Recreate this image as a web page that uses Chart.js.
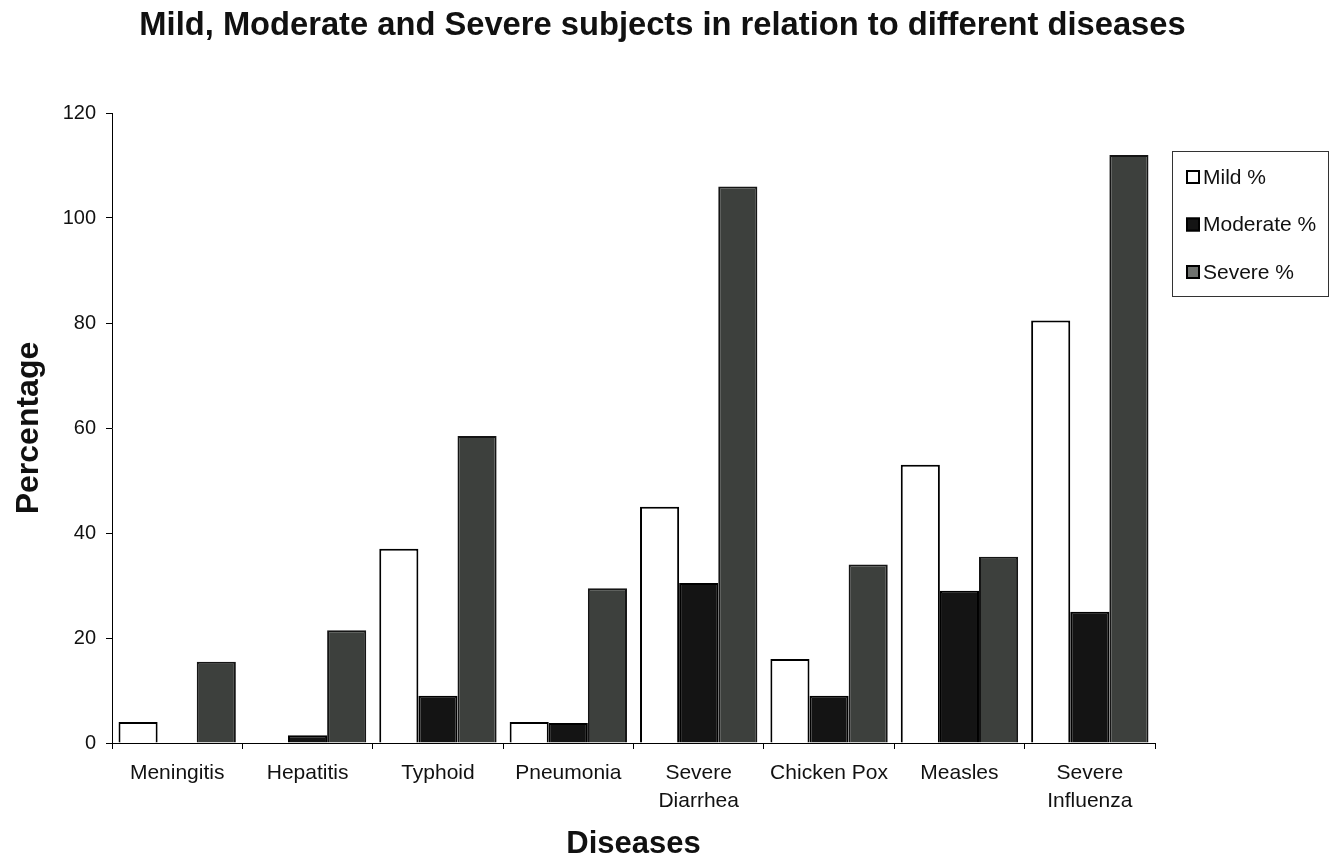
<!DOCTYPE html>
<html>
<head>
<meta charset="utf-8">
<title>Mild, Moderate and Severe subjects in relation to different diseases</title>
<script src="https://cdn.jsdelivr.net/npm/chart.js@4.4.1/dist/chart.umd.min.js"></script>
<style>
  html, body { margin: 0; padding: 0; background: #fff; }
</style>
</head>
<body>
<canvas id="myChart" width="1335" height="858"></canvas>
<script>
// categories and series (percent of subjects)
const diseases = ['Meningitis', 'Hepatitis', 'Typhoid', 'Pneumonia', ['Severe', 'Diarrhea'], 'Chicken Pox', 'Measles', ['Severe', 'Influenza']];
const mild = [4, 0, 37, 4, 45, 16, 53, 80.5];
const moderate = [0, 1.5, 9, 3.8, 30.5, 9, 29, 25];
const severe = [15.5, 21.5, 58.5, 29.5, 106, 34, 35.5, 112];
const yTicks = [0, 20, 40, 60, 80, 100, 120];

const chartTitle = 'Mild, Moderate and Severe subjects in relation to different diseases';
const FONT = "'Liberation Sans', Arial, sans-serif";
const INK = '#111';

// page title centred over the whole canvas, plus a framed legend right of the plot
const decorations = {
  id: 'decorations',
  afterDraw(chart) {
    const ctx = chart.ctx;
    const area = chart.chartArea;
    ctx.save();
    ctx.fillStyle = INK;
    ctx.font = 'bold 32.7px ' + FONT;
    ctx.textAlign = 'center';
    ctx.textBaseline = 'alphabetic';
    ctx.fillText(chartTitle, 662.5, 35);

    const x = area.right + 17, y = 151, w = 156, h = 145;
    ctx.strokeStyle = '#333';
    ctx.lineWidth = 1;
    ctx.strokeRect(x + 0.5, y + 0.5, w, h);
    ctx.font = '21px ' + FONT;
    ctx.textAlign = 'left';
    ctx.textBaseline = 'middle';
    chart.data.datasets.forEach(function (ds, i) {
      const cy = y + 26 + i * 47.5;
      ctx.fillStyle = ds.legendFill || ds.backgroundColor;
      ctx.fillRect(x + 14, cy - 7, 14, 14);
      ctx.strokeStyle = '#000';
      ctx.lineWidth = 2;
      ctx.strokeRect(x + 15, cy - 6, 12, 12);
      ctx.fillStyle = INK;
      ctx.fillText(ds.label, x + 31, cy + 1);
    });
    ctx.restore();
  }
};

const config = {
  type: 'bar',
  data: {
    labels: diseases,
    datasets: [
      { label: 'Mild %', data: mild, backgroundColor: '#ffffff', borderColor: '#000', borderWidth: 2 },
      { label: 'Moderate %', data: moderate, backgroundColor: '#141414', borderColor: '#000', borderWidth: 2 },
      { label: 'Severe %', data: severe, backgroundColor: '#3d403d', borderColor: '#151515', borderWidth: 2, legendFill: '#6f726f' }
    ]
  },
  options: {
    responsive: false,
    animation: false,
    layout: { padding: { left: 0, right: 180, top: 113, bottom: 0 } },
    datasets: {
      bar: { categoryPercentage: 0.9, barPercentage: 1.0, borderSkipped: 'start' }
    },
    plugins: {
      legend: { display: false },
      tooltip: { enabled: false },
      title: { display: false }
    },
    scales: {
      x: {
        grid: { drawOnChartArea: false, drawTicks: true, tickLength: 6, color: '#000' },
        border: { color: '#000', width: 1 },
        ticks: { color: INK, font: { family: FONT, size: 21, lineHeight: 1.33 }, padding: 10, maxRotation: 0, autoSkip: false },
        title: { display: true, text: 'Diseases', color: INK, font: { family: FONT, size: 31, weight: 'bold', lineHeight: 0.9 }, padding: { top: 0, bottom: 0 } },
        afterFit(scale) { scale.height = 115; }
      },
      y: {
        min: yTicks[0],
        max: yTicks[yTicks.length - 1],
        grid: { drawOnChartArea: false, drawTicks: true, tickLength: 6, color: '#000' },
        border: { color: '#000', width: 1 },
        ticks: { stepSize: yTicks[1] - yTicks[0], color: INK, font: { family: FONT, size: 20 }, padding: 10 },
        title: { display: true, text: 'Percentage', color: INK, font: { family: FONT, size: 32, weight: 'bold', lineHeight: 1.0 }, padding: { top: 13, bottom: 0 } },
        afterFit(scale) { scale.width = 112; }
      }
    }
  },
  plugins: [decorations]
};

new Chart(document.getElementById('myChart'), config);
</script>
</body>
</html>
